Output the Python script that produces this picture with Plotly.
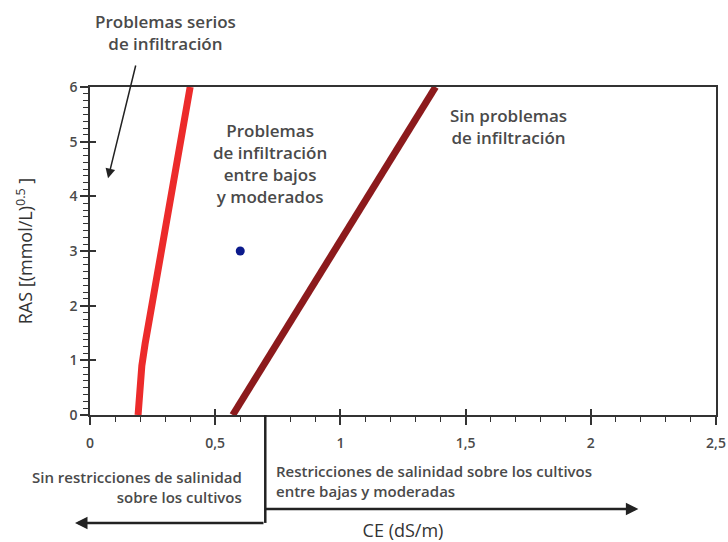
import plotly.graph_objects as go

# Threshold curves: CE (dS/m) versus RAS
red_ce = [0.192, 0.195, 0.200, 0.207, 0.220, 0.40]
red_ras = [0.0, 0.3, 0.6, 0.9, 1.3, 6.0]

brown_ce = [0.57, 1.38]
brown_ras = [0.0, 6.0]

# Sample water
sample_ce = [0.6]
sample_ras = [3.0]

# Salinity restriction threshold on CE
ce_threshold = 0.7

x_tickvals = [0, 0.5, 1, 1.5, 2, 2.5]
x_ticktext = ["0", "0,5", "1", "1,5", "2", "2,5"]
y_tickvals = [0, 1, 2, 3, 4, 5, 6]

FONT = "'Open Sans', Roboto, 'Liberation Sans', Arial, sans-serif"
TXT = "#4a4a4a"

fig = go.Figure()

fig.add_trace(go.Scatter(x=red_ce, y=red_ras, mode="lines",
                         line=dict(color="#ec2b2b", width=7),
                         showlegend=False, hoverinfo="skip"))
fig.add_trace(go.Scatter(x=brown_ce, y=brown_ras, mode="lines",
                         line=dict(color="#8c1a1c", width=7),
                         showlegend=False, hoverinfo="skip"))
fig.add_trace(go.Scatter(x=sample_ce, y=sample_ras, mode="markers",
                         marker=dict(color="#0b1a8c", size=9),
                         showlegend=False))

axis_common = dict(showgrid=False, zeroline=False, showline=True,
                   linecolor="#333333", linewidth=1.5, mirror=True,
                   tickcolor="#333333", tickwidth=1.5, automargin=False)

fig.update_layout(
    width=728, height=542,
    margin=dict(l=90, r=12, t=87, b=127),
    paper_bgcolor="white", plot_bgcolor="white",
    font=dict(family=FONT, color=TXT, size=14),
    xaxis=dict(range=[0, 2.5], tickvals=x_tickvals, ticktext=x_ticktext,
               ticks="outside", ticklen=8, ticklabelstandoff=6,
               minor=dict(dtick=0.1, ticks="outside", ticklen=5,
                          tickcolor="#333333", tickwidth=1.2),
               title=dict(text="CE (dS/m)", standoff=75,
                          font=dict(size=18, color="#333333")),
               tickfont=dict(size=14, color=TXT, weight=600),
               **axis_common),
    yaxis=dict(range=[0, 6], tickvals=y_tickvals,
               ticks="outside", ticklen=8,
               minor=dict(dtick=0.125, ticks="outside", ticklen=5,
                          tickcolor="#333333", tickwidth=1.2),
               title=dict(text="RAS [(mmol/L)<sup>0.5</sup> ]", standoff=32,
                          font=dict(size=18, color="#333333")),
               tickfont=dict(size=14, color=TXT, weight=600),
               **axis_common),
    # second pair of axes on the same scale: inner half of the major ticks
    xaxis2=dict(overlaying="x", range=[0, 2.5], tickvals=x_tickvals,
                showticklabels=False, ticks="inside", ticklen=6,
                tickcolor="#333333", tickwidth=1.5, showgrid=False,
                zeroline=False, showline=False, side="bottom",
                automargin=False),
    yaxis2=dict(overlaying="y", range=[0, 6], tickvals=y_tickvals,
                showticklabels=False, ticks="inside", ticklen=6,
                tickcolor="#333333", tickwidth=1.5, showgrid=False,
                zeroline=False, showline=False, side="left",
                automargin=False),
)

fig.add_trace(go.Scatter(x=[None], y=[None], xaxis="x2", yaxis="y2",
                         mode="markers", showlegend=False, hoverinfo="skip"))

ann_font = dict(family=FONT, size=17, color=TXT, weight=600)

# Region labels inside the chart
fig.add_annotation(x=0.72, y=4.6, xref="x", yref="y",
                   text="Problemas<br>de infiltración<br>entre bajos<br>y moderados",
                   showarrow=False, font=ann_font, align="center")
fig.add_annotation(x=1.67, y=5.28, xref="x", yref="y",
                   text="Sin problemas<br>de infiltración",
                   showarrow=False, font=ann_font, align="center")

# Label above the chart with its arrow
fig.add_annotation(x=0.3, y=1.165, xref="x", yref="paper", yanchor="middle",
                   text="Problemas serios<br>de infiltración",
                   showarrow=False, font=ann_font, align="center")
fig.add_annotation(x=0.072, y=4.33, xref="x", yref="y",
                   ax=0.184, ay=6.42, axref="x", ayref="y",
                   text="", showarrow=True, arrowhead=2, arrowsize=1.3,
                   arrowwidth=1.5, arrowcolor="#222222")

# Salinity restriction bracket below the axis
fig.add_shape(type="line", xref="x", yref="paper",
              x0=ce_threshold, x1=ce_threshold, y0=0, y1=-0.329,
              line=dict(color="#222222", width=2.5))
fig.add_annotation(x=-0.024, y=-0.329, xref="paper", yref="paper",
                   ax=190, ay=0, axref="pixel", ayref="pixel",
                   text="", showarrow=True, arrowhead=2, arrowsize=1,
                   arrowwidth=2.5, arrowcolor="#222222")
fig.add_annotation(x=2.19, y=-0.2866, xref="x", yref="paper",
                   ax=-374, ay=0, axref="pixel", ayref="pixel",
                   text="", showarrow=True, arrowhead=2, arrowsize=1,
                   arrowwidth=2.5, arrowcolor="#222222")

small_font = dict(family=FONT, size=15, color=TXT, weight=600)
fig.add_annotation(x=ce_threshold - 0.084, y=-0.2195, xref="x", yref="paper",
                   xanchor="right", yanchor="middle",
                   text="Sin restricciones de salinidad<br>sobre los cultivos",
                   showarrow=False, font=small_font, align="right")
fig.add_annotation(x=ce_threshold + 0.036, y=-0.201, xref="x", yref="paper",
                   xanchor="left", yanchor="middle",
                   text="Restricciones de salinidad sobre los cultivos<br>entre bajas y moderadas",
                   showarrow=False, font=small_font, align="left")

fig.write_html("out.html")
